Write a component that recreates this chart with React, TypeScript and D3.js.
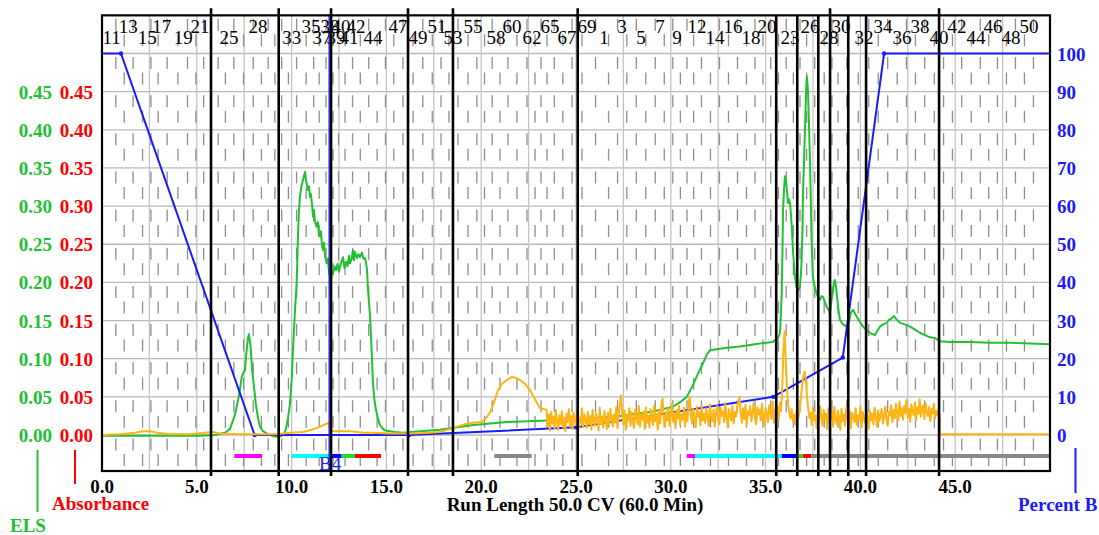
import React from "react";
import * as d3 from "d3";

const WIDTH = 1099;
const HEIGHT = 535;
const FONT = "'Liberation Serif', 'Times New Roman', serif";

const ELS_GREEN = "#22c032";
const ABS_RED = "#ff0000";
const UV_GOLD = "#fdb515";
const PCT_BLUE = "#1a1aff";

// Axis ticks
const runTicks = [0, 5, 10, 15, 20, 25, 30, 35, 40, 45];
const runGridCV = [2.5, 5, 7.5, 10, 12.5, 15, 17.5, 20, 22.5, 25, 27.5, 30, 32.5, 35, 37.5, 40, 42.5, 45, 47.5];
const auTicks = [0, 0.05, 0.1, 0.15, 0.2, 0.25, 0.3, 0.35, 0.4, 0.45];
const pctTicks = [0, 10, 20, 30, 40, 50, 60, 70, 80, 90, 100];

// Percent B gradient program
const gradientCV = [0, 1.0, 8.05, 16.2, 25.0, 35.4, 39.07, 41.25, 50];
const gradientPct = [100, 100, 0, 0, 2.0, 10.0, 20.3, 100, 100];

// ELS detector trace
const elsCV = [
  0, 2.53, 5.17, 5.96, 6.49, 6.75, 7.01, 7.23, 7.37, 7.44, 7.54, 7.62, 7.7, 7.75, 7.83, 7.91, 8.02, 8.12, 8.23, 8.33,
  8.49, 8.76, 9.12, 9.39, 9.6, 9.7, 9.81, 9.92, 10.02, 10.07, 10.18, 10.27, 10.34, 10.39, 10.44, 10.52, 10.6, 10.65,
  10.71, 10.76, 10.81, 10.86, 10.92, 10.97, 11.02, 11.08, 11.13, 11.18, 11.23, 11.32, 11.39, 11.44, 11.5, 11.55,
  11.6, 11.66, 11.71, 11.76, 11.85, 11.92, 11.97, 12.03, 12.05, 12.08, 12.13, 12.18, 12.26, 12.34, 12.42, 12.5,
  12.55, 12.63, 12.71, 12.79, 12.87, 12.95, 13.03, 13.08, 13.16, 13.24, 13.29, 13.34, 13.45, 13.53, 13.61, 13.71,
  13.79, 13.87, 13.92, 13.98, 14.03, 14.14, 14.22, 14.29, 14.37, 14.45, 14.56, 14.66, 14.82, 14.93, 15.45, 15.88,
  16.77, 17.83, 19.57, 21.36, 23.47, 25.21, 27.32, 28.9, 30.12, 30.49, 30.84, 31.12, 31.43, 31.7, 31.91, 32.07,
  32.86, 33.65, 34.7, 35.39, 35.65, 35.76, 35.81, 35.85, 35.89, 35.92, 35.97, 36.02, 36.08, 36.11, 36.15, 36.18,
  36.23, 36.29, 36.34, 36.38, 36.45, 36.55, 36.63, 36.71, 36.76, 36.81, 36.87, 36.9, 36.95, 36.97, 37.03, 37.08,
  37.13, 37.17, 37.2, 37.24, 37.29, 37.34, 37.39, 37.43, 37.47, 37.5, 37.6, 37.69, 37.76, 37.87, 37.95, 38.03,
  38.13, 38.22, 38.29, 38.4, 38.48, 38.56, 38.61, 38.66, 38.71, 38.75, 38.82, 38.92, 39.08, 39.28, 39.4, 39.5,
  39.61, 39.72, 39.81, 39.98, 40.14, 40.3, 40.51, 40.66, 40.77, 40.88, 41.03, 41.19, 41.39, 41.51, 41.65, 41.77,
  41.92, 42.09, 42.35, 42.62, 42.88, 43.14, 43.41, 43.67, 43.93, 44.2, 44.73, 45.78, 46.84, 47.89, 48.95, 50,
];
const elsAU = [
  -0.001, -0.001, -0.001, 0, 0.003, 0.008, 0.026, 0.052, 0.076, 0.081, 0.085, 0.109, 0.127, 0.132, 0.118, 0.088,
  0.062, 0.039, 0.022, 0.011, 0.005, 0.001, -0.002, -0.002, 0.001, 0.008, 0.022, 0.042, 0.079, 0.111, 0.164, 0.199,
  0.265, 0.295, 0.312, 0.326, 0.334, 0.339, 0.345, 0.334, 0.328, 0.321, 0.326, 0.312, 0.316, 0.301, 0.286, 0.295,
  0.28, 0.273, 0.279, 0.262, 0.26, 0.267, 0.249, 0.242, 0.252, 0.235, 0.225, 0.231, 0.214, 0.207, 0.186, 0.203,
  0.215, 0.211, 0.221, 0.216, 0.224, 0.214, 0.22, 0.227, 0.233, 0.219, 0.227, 0.221, 0.235, 0.225, 0.231, 0.242,
  0.229, 0.24, 0.232, 0.237, 0.233, 0.239, 0.231, 0.232, 0.227, 0.216, 0.19, 0.155, 0.111, 0.068, 0.046, 0.033,
  0.021, 0.013, 0.008, 0.006, 0.004, 0.003, 0.005, 0.007, 0.013, 0.017, 0.019, 0.021, 0.025, 0.03, 0.037, 0.043,
  0.05, 0.063, 0.08, 0.094, 0.106, 0.111, 0.114, 0.116, 0.12, 0.122, 0.127, 0.134, 0.161, 0.186, 0.242, 0.295,
  0.321, 0.339, 0.332, 0.325, 0.313, 0.304, 0.309, 0.304, 0.288, 0.273, 0.239, 0.207, 0.194, 0.19, 0.191, 0.194,
  0.214, 0.229, 0.275, 0.317, 0.36, 0.404, 0.446, 0.47, 0.463, 0.448, 0.406, 0.36, 0.301, 0.252, 0.223, 0.207,
  0.193, 0.186, 0.181, 0.177, 0.182, 0.181, 0.174, 0.168, 0.165, 0.16, 0.177, 0.19, 0.201, 0.203, 0.195, 0.186,
  0.169, 0.151, 0.145, 0.142, 0.148, 0.16, 0.164, 0.159, 0.155, 0.148, 0.142, 0.138, 0.134, 0.132, 0.131, 0.136,
  0.142, 0.145, 0.147, 0.151, 0.153, 0.156, 0.151, 0.147, 0.145, 0.142, 0.138, 0.134, 0.131, 0.128, 0.127, 0.123,
  0.122, 0.122, 0.121, 0.121, 0.12, 0.119,
];

// UV absorbance trace: smooth early part
const uvCV = [
  0, 0.95, 1.74, 2.16, 2.53, 2.9, 3.59, 4.64, 5.43, 5.85, 6.22, 7.28, 9.12, 9.92, 10.6, 11.08, 11.5, 11.76, 11.97,
  12.03, 12.18, 13.08, 13.77, 14.14, 15.19, 16.24, 17.3, 17.83, 18.35, 18.71, 19.15, 19.57, 20.03, 20.25, 20.46,
  20.68, 20.89, 21.1, 21.34, 21.61, 21.84, 22.05, 22.31, 22.57, 22.84, 23.1, 23.45,
];
const uvAU = [
  0, 0.001, 0.003, 0.005, 0.005, 0.003, 0.001, 0.001, 0.003, 0.004, 0.002, 0.001, 0.001, 0.003, 0.004, 0.007, 0.011,
  0.014, 0.016, 0.007, 0.005, 0.005, 0.003, 0.003, 0.002, 0.002, 0.003, 0.004, 0.008, 0.011, 0.014, 0.016, 0.017,
  0.022, 0.029, 0.043, 0.059, 0.067, 0.072, 0.076, 0.075, 0.072, 0.067, 0.059, 0.047, 0.035, 0.033,
];
// UV absorbance trace: noisy gradient section, sampled every 0.0625 CV (milli-AU)
const uvNoiseStartCV = 23.5;
const uvNoiseStepCV = 0.0625;
const uvNoiseMilliAU = [
  12, 27, 6, 30, 15, 24, 9, 33, 18, 7, 26, 14, 31, 10, 22, 5, 28, 17, 34, 11,
  25, 8, 29, 19, 13, 32, 6, 23, 16, 35, 10, 27, 20, 9, 30, 14, 25, 7, 33, 18,
  12, 28, 21, 6, 36, 15, 24, 10, 31, 19, 8, 29, 13, 34, 22, 11, 27, 16, 37, 9,
  25, 40, 52, 28, 14, 32, 7, 26, 19, 35, 12, 30, 17, 9, 33, 22, 14, 38, 11, 27,
  20, 31, 8, 36, 16, 25, 10, 34, 21, 13, 39, 18, 28, 7, 32, 15, 37, 48, 24, 11,
  30, 19, 35, 12, 26, 41, 17, 29, 9, 33, 22, 38, 14, 27, 20, 36, 11, 31, 18, 42,
  50, 25, 15, 34, 21, 10, 37, 24, 30, 13, 39, 19, 28, 16, 35, 22, 12, 40, 26, 18,
  33, 11, 29, 38, 20, 14, 36, 25, 31, 17, 42, 23, 10, 34, 27, 19, 39, 15, 30, 24,
  37, 44, 50, 28, 16, 35, 21, 40, 13, 31, 26, 38, 18, 29, 43, 22, 14, 36, 27, 33,
  19, 41, 24, 12, 35, 28, 17, 39, 30, 21, 44, 16, 33, 25, 37, 20, 42, 31, 60, 110,
  136, 98, 62, 40, 30, 22, 34, 18, 27, 14, 31, 20, 25, 36, 52, 68, 78, 83, 72, 50,
  34, 22, 29, 13, 36, 19, 26, 9, 31, 17, 38, 24, 12, 33, 21, 28, 8, 35, 16, 25,
  30, 11, 37, 20, 14, 32, 23, 7, 34, 18, 27, 12, 36, 21, 15, 31, 9, 29, 24, 17,
  35, 13, 26, 20, 38, 10, 30, 22, 16, 33, 25, 8, 31, 19, 28, 14, 36, 23, 11, 32,
  18, 27, 34, 15, 24, 37, 21, 12, 30, 26, 39, 17, 33, 22, 41, 28, 19, 44, 25, 35,
  20, 38, 29, 46, 23, 34, 17, 40, 31, 26, 43, 19, 36, 28, 47, 24, 33, 39, 21, 42,
  30, 25, 37, 18, 34, 28, 41, 22, 31, 26, 35, 20,
];
// UV absorbance trace: after the detector returns to baseline
const uvTailCV = [44.2, 50];
const uvTailAU = [0.001, 0.001];

// Fraction collector tubes (labelled tubes and their centres, CV)
const RACK1_FIRST = 11;
const RACK1_LAST = 69;
const RACK2_LAST = 50;
const rack1Labels = [11, 13, 15, 17, 19, 21, 25, 28, 33, 35, 37, 38, 39, 40, 41, 42, 44, 47, 49, 51, 53, 55, 58, 60, 62, 65, 67, 69];
const rack1LabelCV = [0.51, 1.39, 2.39, 3.15, 4.29, 5.17, 6.7, 8.23, 10.01, 11.02, 11.6, 12.03, 12.34, 12.61, 13.03, 13.4, 14.29, 15.61, 16.67, 17.67, 18.51, 19.57, 20.78, 21.62, 22.68, 23.63, 24.53, 25.58];
const rack2Labels = [1, 3, 5, 7, 9, 12, 14, 16, 18, 20, 23, 26, 28, 30, 32, 34, 36, 38, 40, 42, 44, 46, 48, 50];
const rack2LabelCV = [26.48, 27.43, 28.43, 29.43, 30.33, 31.38, 32.33, 33.28, 34.23, 35.07, 36.29, 37.34, 38.34, 38.98, 40.19, 41.19, 42.19, 43.14, 44.15, 45.09, 46.1, 46.99, 47.94, 48.89];

// Collection events (heavy markers)
const eventCV = [5.75, 9.32, 12.08, 16.14, 18.51, 25.09, 35.56, 36.67, 37.78, 38.4, 39.36, 40.3, 44.15];
const eventAboveFrame = [true, true, true, true, true, true, false, false, false, true, false, false, true];
const injectEventCV = 11.98;
const injectLabel = "B4";

// Collected-fraction bars
const barStartCV = [6.98, 10.0, 12.03, 12.64, 13.34, 20.69, 30.84, 31.28, 35.85, 36.72, 36.98, 37.4];
const barEndCV = [8.44, 12.03, 12.64, 13.34, 14.72, 22.66, 31.28, 35.85, 36.72, 36.98, 37.4, 50];
const barColor = ["#ff00ff", "#00ffff", "#0000ff", "#22dd22", "#ff0000", "#888888", "#ff00ff", "#00ffff", "#0000ff", "#22dd22", "#ff0000", "#888888"];

type Pt = [number, number];

function tubeBoundaries(): number[] {
  const known = [
    ...rack1Labels.map((n, i) => ({ seq: n - RACK1_FIRST, cv: rack1LabelCV[i] })),
    ...rack2Labels.map((n, i) => ({ seq: RACK1_LAST - RACK1_FIRST + n, cv: rack2LabelCV[i] })),
  ];
  const total = RACK1_LAST - RACK1_FIRST + 1 + RACK2_LAST;
  const centre = d3.scaleLinear().domain(known.map((k) => k.seq)).range(known.map((k) => k.cv));
  const centres = d3.range(total).map((s) => centre(s));
  const bounds: number[] = [];
  for (let s = 1; s < total; s++) bounds.push((centres[s - 1] + centres[s]) / 2);
  bounds.push(centres[total - 1] + (centres[total - 1] - centres[total - 2]) / 2);
  return bounds;
}

export default function App() {
  const x = d3.scaleLinear().domain([0, 50]).range([102, 1050]);
  const yPct = d3.scaleLinear().domain([0, 100]).range([435, 53.5]);
  const yAU = d3.scaleLinear().domain([0, 0.5]).range([435, 53.5]);
  const top = yPct(110);
  const bottom = 471;
  const left = x(0);
  const right = x(50);

  const elsPts: Pt[] = elsCV.map((c, i) => [c, elsAU[i]]);
  const uvPts: Pt[] = [
    ...uvCV.map((c, i) => [c, uvAU[i]] as Pt),
    ...uvNoiseMilliAU.map((m, i) => [uvNoiseStartCV + i * uvNoiseStepCV, m / 1000] as Pt),
    ...uvTailCV.map((c, i) => [c, uvTailAU[i]] as Pt),
  ];
  const pctPts: Pt[] = gradientCV.map((c, i) => [c, gradientPct[i]]);

  const lineAU = d3.line<Pt>().x((d) => x(d[0])).y((d) => yAU(d[1]));
  const linePct = d3.line<Pt>().x((d) => x(d[0])).y((d) => yPct(d[1]));

  const bounds = tubeBoundaries();
  const tubeLabels = [
    ...rack1Labels.map((n, i) => ({ n, cv: rack1LabelCV[i] })),
    ...rack2Labels.map((n, i) => ({ n, cv: rack2LabelCV[i] })),
  ];

  const dashPeriod = yPct(0) - yPct(10);

  return (
    <svg
      width={WIDTH}
      height={HEIGHT}
      style={{ position: "absolute", left: 0, top: 0, background: "#fff" }}
      fontFamily={FONT}
    >
      {/* horizontal grid */}
      {pctTicks.map((t) => (
        <line key={"h" + t} x1={left} x2={right} y1={yPct(t)} y2={yPct(t)} stroke="#b9b9b9" strokeWidth={1.3} />
      ))}
      {/* vertical grid */}
      {runGridCV.map((c) => (
        <line key={"v" + c} x1={x(c)} x2={x(c)} y1={top} y2={bottom} stroke="#c4c4c4" strokeWidth={1.3} />
      ))}
      {/* tube boundaries */}
      {bounds.map((b, i) =>
        b < 50 ? (
          <line
            key={"t" + i}
            x1={x(b)}
            x2={x(b)}
            y1={top}
            y2={bottom}
            stroke="#8e8e8e"
            strokeWidth={1.3}
            strokeDasharray={`12 ${dashPeriod - 12}`}
            strokeDashoffset={i % 2 === 0 ? dashPeriod - 3.5 : dashPeriod - 19}
          />
        ) : null
      )}

      {/* collected fraction bars */}
      {barStartCV.map((s, i) => (
        <rect key={"b" + i} x={x(s)} y={454} width={x(barEndCV[i]) - x(s)} height={4} fill={barColor[i]} />
      ))}

      {/* traces */}
      <path d={lineAU(elsPts) || ""} fill="none" stroke={ELS_GREEN} strokeWidth={2} strokeLinejoin="round" />
      <path d={linePct(pctPts) || ""} fill="none" stroke={PCT_BLUE} strokeWidth={2} />
      {pctPts.slice(1, -1).map((p, i) => (
        <circle key={"g" + i} cx={x(p[0])} cy={yPct(p[1])} r={2.2} fill={PCT_BLUE} />
      ))}
      <path d={lineAU(uvPts) || ""} fill="none" stroke={UV_GOLD} strokeWidth={2} strokeLinejoin="round" />

      {/* injection event */}
      <line x1={x(injectEventCV)} x2={x(injectEventCV)} y1={top} y2={bottom} stroke={PCT_BLUE} strokeWidth={1.3} />
      <text x={x(injectEventCV) + 1} y={470} fontSize={19} fill={PCT_BLUE} textAnchor="middle">
        {injectLabel}
      </text>

      {/* collection events */}
      {eventCV.map((c, i) => (
        <line
          key={"e" + i}
          x1={x(c)}
          x2={x(c)}
          y1={eventAboveFrame[i] ? top - 7 : top}
          y2={bottom + 5}
          stroke="#000"
          strokeWidth={2.6}
        />
      ))}

      {/* frame */}
      <rect x={left} y={top} width={right - left} height={bottom - top} fill="none" stroke="#000" strokeWidth={2.2} />

      {/* tube numbers */}
      {tubeLabels.map((t, i) => (
        <text key={"n" + i} x={x(t.cv)} y={i % 2 === 0 ? 43.5 : 32.5} fontSize={19} textAnchor="middle" fill="#000">
          {t.n}
        </text>
      ))}

      {/* left axes */}
      {auTicks.map((t) => (
        <g key={"a" + t} fontSize={19} fontWeight="bold" textAnchor="end">
          <text x={52} y={yAU(t) + 7} fill={ELS_GREEN}>
            {t.toFixed(2)}
          </text>
          <text x={93} y={yAU(t) + 7} fill={ABS_RED}>
            {t.toFixed(2)}
          </text>
        </g>
      ))}
      {/* right axis */}
      {pctTicks.map((t) => (
        <text key={"p" + t} x={1057} y={yPct(t) + 7} fontSize={19} fontWeight="bold" fill={PCT_BLUE}>
          {t}
        </text>
      ))}
      {/* bottom axis */}
      {runTicks.map((t) => (
        <text key={"r" + t} x={x(t)} y={493} fontSize={19} fontWeight="bold" textAnchor="middle" fill="#000">
          {t.toFixed(1)}
        </text>
      ))}
      <text x={575} y={511} fontSize={19} fontWeight="bold" textAnchor="middle" fill="#000">
        Run Length 50.0 CV (60.0 Min)
      </text>

      {/* series keys */}
      <line x1={37.5} x2={37.5} y1={450} y2={512} stroke={ELS_GREEN} strokeWidth={2} />
      <text x={10} y={532} fontSize={19} fontWeight="bold" fill={ELS_GREEN}>
        ELS
      </text>
      <line x1={75} x2={75} y1={450} y2={484} stroke={ABS_RED} strokeWidth={2} />
      <text x={52} y={510} fontSize={19} fontWeight="bold" fill={ABS_RED}>
        Absorbance
      </text>
      <line x1={1075.5} x2={1075.5} y1={448} y2={493} stroke={PCT_BLUE} strokeWidth={2} />
      <text x={1018} y={511} fontSize={19} fontWeight="bold" fill={PCT_BLUE}>
        Percent B
      </text>
    </svg>
  );
}
